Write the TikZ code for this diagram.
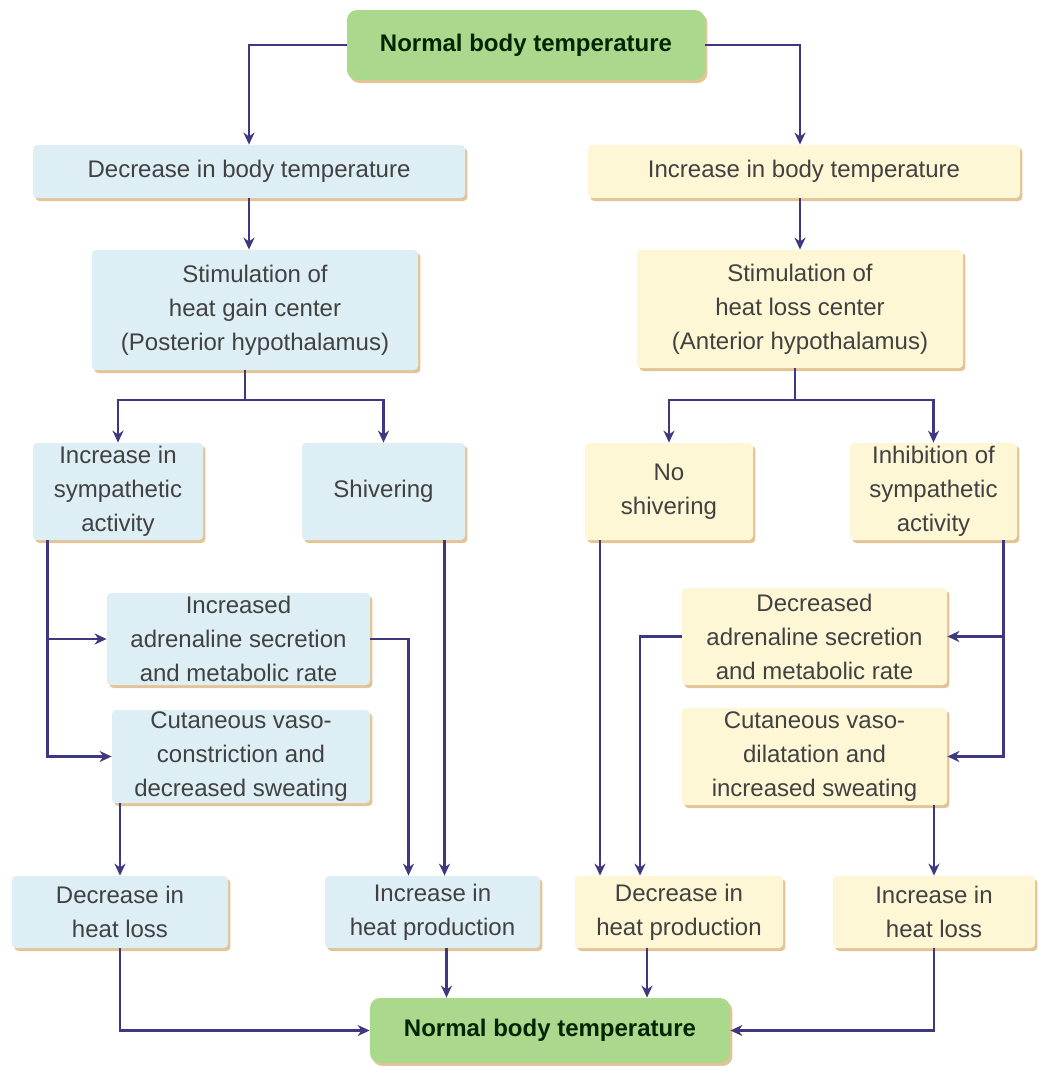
\documentclass[tikz,border=0pt]{standalone}
\usepackage{fontspec}
\setmainfont{Liberation Sans}
\usetikzlibrary{arrows.meta,shadows}
\definecolor{coldfill}{RGB}{221,238,245}
\definecolor{warmfill}{RGB}{253,247,213}
\definecolor{normfill}{RGB}{170,217,142}
\definecolor{rim}{RGB}{226,196,150}
\definecolor{flowline}{RGB}{62,56,128}
\definecolor{txt}{RGB}{65,65,65}

\begin{document}
\begin{tikzpicture}[x=0.5pt,y=-0.5pt,
    box/.style={inner sep=0pt,align=center,text=txt,font=\fontsize{12}{17}\selectfont,rounded corners=2pt,
        drop shadow={shadow xshift=1.2pt,shadow yshift=-1.5pt,fill=rim,opacity=1}},
    cold/.style={box,fill=coldfill},
    warm/.style={box,fill=warmfill},
    norm/.style={box,fill=normfill,rounded corners=5pt,text=black!85!green,font=\fontsize{12}{17}\selectfont\bfseries},
    wire/.style={draw=flowline,line width=1.2pt},
    flow/.style={wire,-{Stealth[length=6pt,width=5.5pt]}}]
        \useasboundingbox (0,0) rectangle (1038,1066);
        % top and first level
        \node[norm,minimum width=179pt,minimum height=35pt] (top) at (526,45) {Normal body temperature};
        \node[cold,minimum width=216pt,minimum height=26.5pt] (decr) at (249,171.5) {Decrease in body temperature};
        \node[warm,minimum width=216pt,minimum height=26.5pt] (incr) at (804,171.5) {Increase in body temperature};
        \node[cold,minimum width=163pt,minimum height=60pt] (stimg) at (255,310) {Stimulation of\\heat gain center\\(Posterior hypothalamus)};
        \node[warm,minimum width=163pt,minimum height=59pt] (stiml) at (800,309) {Stimulation of\\heat loss center\\(Anterior hypothalamus)};
        % responses
        \node[cold,minimum width=85pt,minimum height=48.5pt] (symp) at (118,491.5) {Increase in\\sympathetic\\activity};
        \node[cold,minimum width=81.5pt,minimum height=48.5pt] (shiv) at (383.5,491.5) {Shivering};
        \node[warm,minimum width=84pt,minimum height=48.5pt] (nosh) at (669,491.5) {No\\shivering};
        \node[warm,minimum width=83.5pt,minimum height=48.5pt] (inhib) at (933.5,491.5) {Inhibition of\\sympathetic\\activity};
        \node[cold,minimum width=131.5pt,minimum height=46pt] (adrg) at (238.5,639) {Increased\\adrenaline secretion\\and metabolic rate};
        \node[cold,minimum width=129pt,minimum height=46.5pt] (vcon) at (241,756.5) {Cutaneous vaso-\\constriction and\\decreased sweating};
        \node[warm,minimum width=132.5pt,minimum height=48.5pt] (adrl) at (814.5,636.5) {Decreased\\adrenaline secretion\\and metabolic rate};
        \node[warm,minimum width=132.5pt,minimum height=48.5pt] (vdil) at (814.5,756.5) {Cutaneous vaso-\\dilatation and\\increased sweating};
        % effects
        \node[cold,minimum width=108pt,minimum height=36pt] (hlossg) at (120,912) {Decrease in\\heat loss};
        \node[cold,minimum width=107.5pt,minimum height=36pt] (hprodg) at (432.5,912) {Increase in\\heat production};
        \node[warm,minimum width=104pt,minimum height=36pt] (hprodl) at (679,912) {Decrease in\\heat production};
        \node[warm,minimum width=101pt,minimum height=36pt] (hlossl) at (934,912) {Increase in\\heat loss};
        \node[norm,minimum width=180pt,minimum height=32.5pt] (bottom) at (550,1030.5) {Normal body temperature};
        % connectors
        \coordinate (bg) at (245,400);
        \coordinate (bl) at (795,400);
        \draw[flow] (top.west) -| (decr.north);
        \draw[flow] (top.east) -| (stiml.north |- incr.north);
        \draw[flow] (decr.south) -- (decr.south |- stimg.north);
        \draw[flow] (stiml.north |- incr.south) -- (stiml.north);
        \draw[wire] (stimg.south -| bg) -- (bg);
        \draw[flow] (bg) -| (symp.north);
        \draw[flow] (bg) -| (shiv.north);
        \draw[wire] (stiml.south -| bl) -- (bl);
        \draw[flow] (bl) -| (nosh.north);
        \draw[flow] (bl) -| (inhib.north);
        \draw[flow] ([xshift=7.5pt]symp.south west) |- (adrg.west);
        \draw[flow] ([xshift=7.5pt]symp.south west) |- (vcon.west);
        \draw[flow] ([xshift=-7pt]inhib.south east) |- (adrl.east);
        \draw[flow] ([xshift=-7pt]inhib.south east) |- (vdil.east);
        \draw[flow] (adrg.east) -| ([xshift=-12pt]hprodg.north);
        \draw[flow] ([xshift=6pt]hprodg.north |- shiv.south) -- ([xshift=6pt]hprodg.north);
        \draw[flow] (hlossg.north |- vcon.south) -- (hlossg.north);
        \draw[flow] ([xshift=-39.5pt]hprodl.north |- nosh.south) -- ([xshift=-39.5pt]hprodl.north);
        \draw[flow] (adrl.west) -| ([xshift=-19.5pt]hprodl.north);
        \draw[flow] (hlossl.north |- vdil.south) -- (hlossl.north);
        \draw[flow] (hlossg.south) |- (bottom.west);
        \draw[flow] ([xshift=7pt]hprodg.south) -- ([xshift=7pt]hprodg.south |- bottom.north);
        \draw[flow] ([xshift=-16pt]hprodl.south) -- ([xshift=-16pt]hprodl.south |- bottom.north);
        \draw[flow] (hlossl.south) |- (bottom.east);
    \end{tikzpicture}
\end{document}
